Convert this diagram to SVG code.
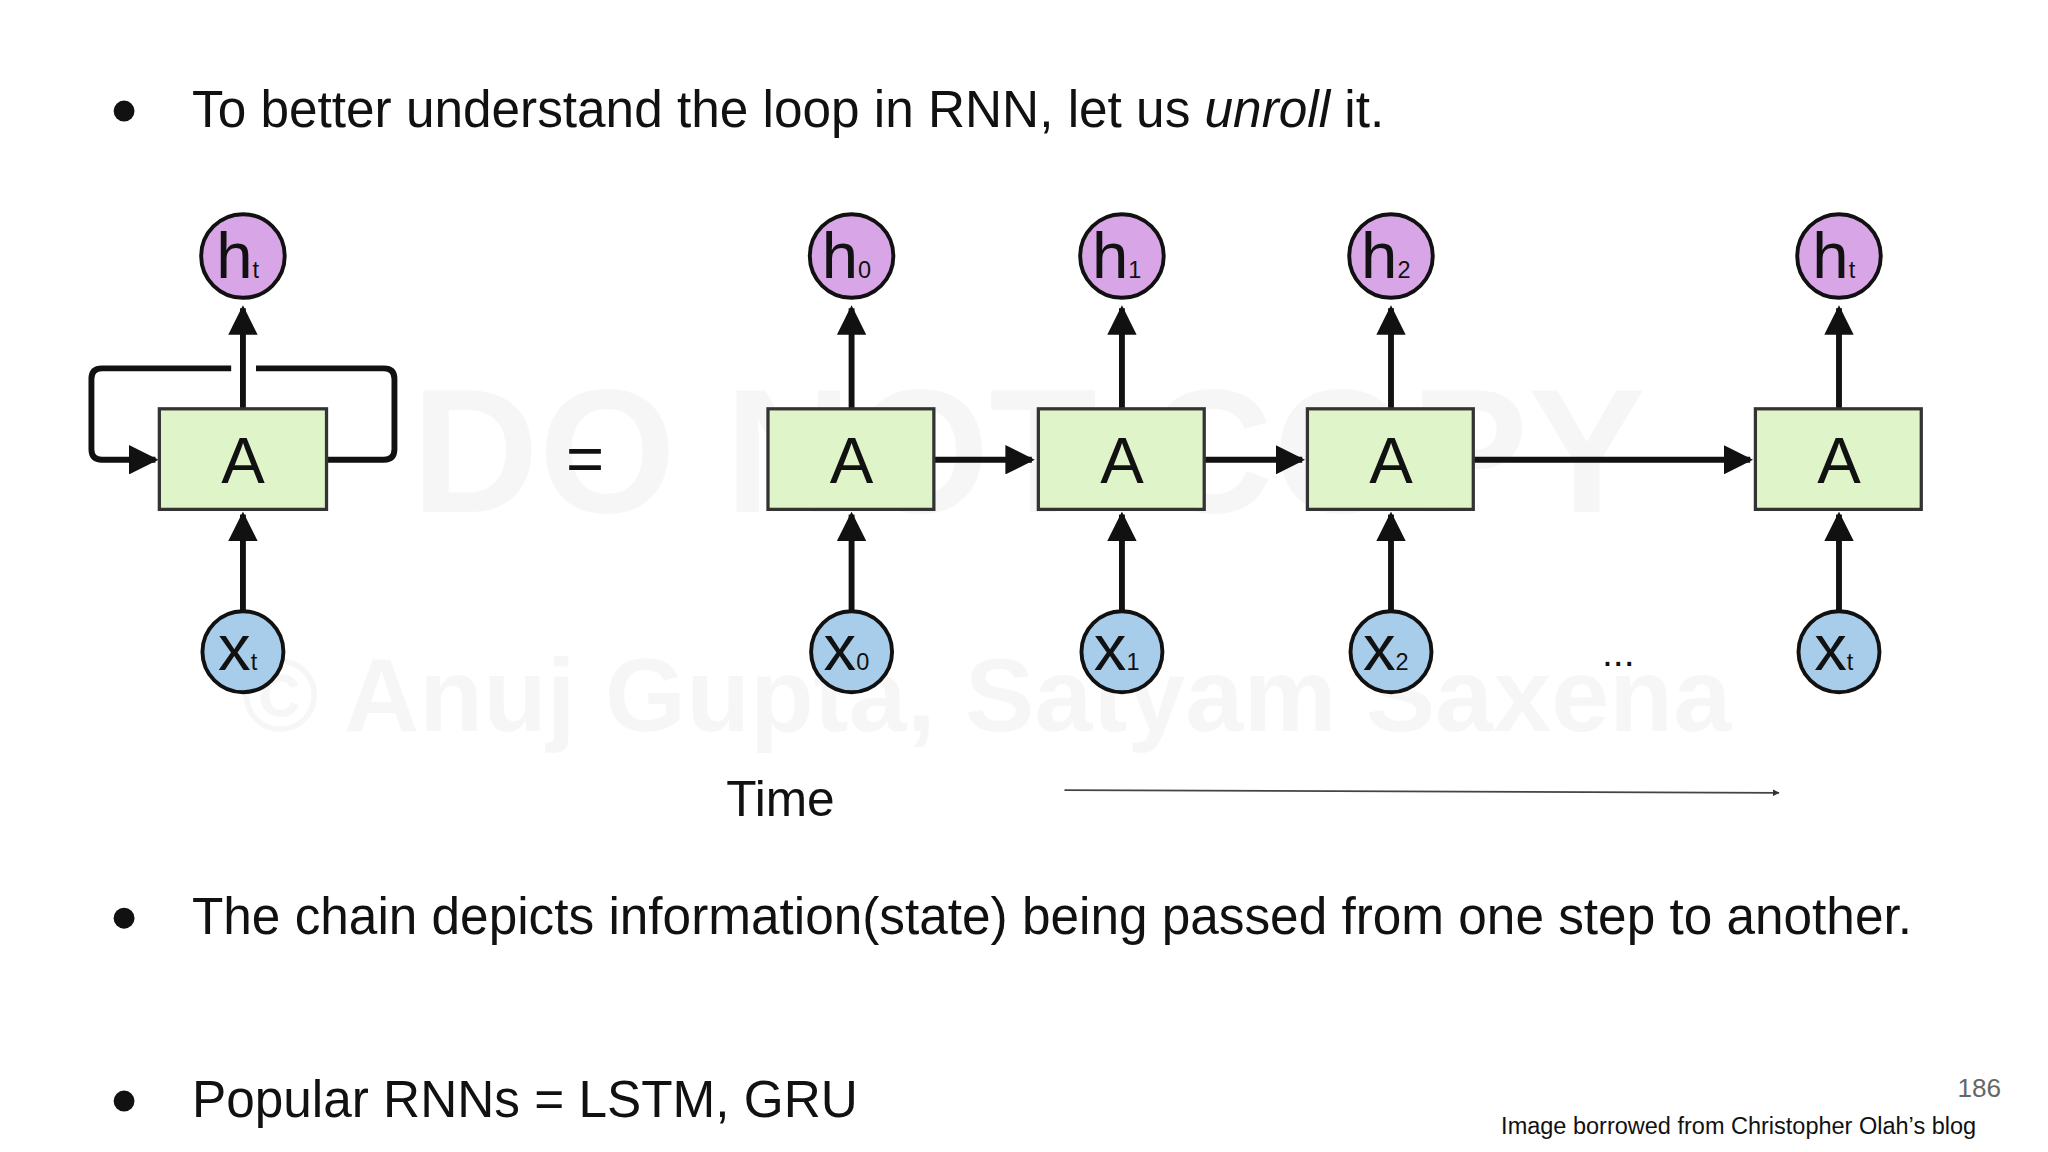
<svg xmlns="http://www.w3.org/2000/svg" width="2048" height="1152" viewBox="0 0 2048 1152">
<style>
.t{font-family:"Liberation Sans",Arial,sans-serif;fill:#111}
.b{font-size:39.3px}
.h{fill:#d8a6e6;stroke:#111;stroke-width:3}
.x{fill:#a8cdeb;stroke:#111;stroke-width:3}
.a{fill:#dff5c9;stroke:#333;stroke-width:2.5}
.l{fill:none;stroke:#111;stroke-width:4.5}
.big{font-size:50px;text-anchor:middle}
.sub{font-size:18px}
.wm{font-family:"Liberation Sans",sans-serif;font-weight:bold;fill:#000;fill-opacity:0.035}
</style>
<defs>
<marker id="m" viewBox="0 0 10 10" refX="9" refY="5" markerWidth="5" markerHeight="5" markerUnits="strokeWidth" orient="auto"><path d="M0,0L10,5L0,10z" fill="#111"/></marker>
<marker id="s" viewBox="0 0 10 10" refX="9" refY="5" markerWidth="4" markerHeight="4" orient="auto"><path d="M0,0L10,5L0,10z" fill="#333"/></marker>
</defs>
<rect width="2048" height="1152" fill="#fff"/>
<g transform="scale(1.3061)">
<text class="wm" x="315" y="392" font-size="135">DO NOT COPY</text>
<text class="wm" x="185" y="560" font-size="80">© Anuj Gupta, Satyam Saxena</text>
<g id="bullet1"><circle cx="95" cy="85" r="8" fill="#111"/><text class="t b" x="147" y="97">To better understand the loop in RNN, let us <tspan font-style="italic">unroll</tspan> it.</text></g>
<g id="connectors">
<path class="l" d="M186,313V236" marker-end="url(#m)"/>
<path class="l" d="M186,468V394" marker-end="url(#m)"/>
<path class="l" d="M250,352H294Q302,352 302,344V290Q302,282 294,282H196"/>
<path class="l" d="M177,282H78Q70,282 70,290V344Q70,352 78,352H119" marker-end="url(#m)"/>
<path class="l" d="M652,313V236" marker-end="url(#m)"/>
<path class="l" d="M859,313V236" marker-end="url(#m)"/>
<path class="l" d="M1065,313V236" marker-end="url(#m)"/>
<path class="l" d="M1408,313V236" marker-end="url(#m)"/>
<path class="l" d="M652,468V394" marker-end="url(#m)"/>
<path class="l" d="M859,468V394" marker-end="url(#m)"/>
<path class="l" d="M1065,468V394" marker-end="url(#m)"/>
<path class="l" d="M1408,468V394" marker-end="url(#m)"/>
<path class="l" d="M715,352H790" marker-end="url(#m)"/>
<path class="l" d="M922,352H997" marker-end="url(#m)"/>
<path class="l" d="M1128,352H1340" marker-end="url(#m)"/>
<path d="M815,605L1362,607" stroke="#444" stroke-width="1.3" fill="none" marker-end="url(#s)"/>
</g>
<g id="loopcell"><rect class="a" x="122" y="313" width="128" height="77"/><text class="t big" x="186" y="370">A</text></g>
<g id="loop_h"><circle class="h" cx="186" cy="196" r="32"/><text class="t big" x="182" y="213">h<tspan class="sub">t</tspan></text></g>
<g id="loop_x"><circle class="x" cx="186" cy="499" r="31"/><text class="t big" x="182" y="513">x<tspan class="sub">t</tspan></text></g>
<g id="eq"><text class="t" x="448" y="368" font-size="50" text-anchor="middle">=</text></g>
<g id="A0"><rect class="a" x="588" y="313" width="127" height="77"/><text class="t big" x="652" y="370">A</text></g>
<g id="A1"><rect class="a" x="795" y="313" width="127" height="77"/><text class="t big" x="859" y="370">A</text></g>
<g id="A2"><rect class="a" x="1001" y="313" width="127" height="77"/><text class="t big" x="1065" y="370">A</text></g>
<g id="At"><rect class="a" x="1344" y="313" width="127" height="77"/><text class="t big" x="1408" y="370">A</text></g>
<g id="h0"><circle class="h" cx="652" cy="196" r="32"/><text class="t big" x="648" y="213">h<tspan class="sub">0</tspan></text></g>
<g id="h1"><circle class="h" cx="859" cy="196" r="32"/><text class="t big" x="855" y="213">h<tspan class="sub">1</tspan></text></g>
<g id="h2"><circle class="h" cx="1065" cy="196" r="32"/><text class="t big" x="1061" y="213">h<tspan class="sub">2</tspan></text></g>
<g id="ht"><circle class="h" cx="1408" cy="196" r="32"/><text class="t big" x="1404" y="213">h<tspan class="sub">t</tspan></text></g>
<g id="x0"><circle class="x" cx="652" cy="499" r="31"/><text class="t big" x="648" y="513">x<tspan class="sub">0</tspan></text></g>
<g id="x1"><circle class="x" cx="859" cy="499" r="31"/><text class="t big" x="855" y="513">x<tspan class="sub">1</tspan></text></g>
<g id="x2"><circle class="x" cx="1065" cy="499" r="31"/><text class="t big" x="1061" y="513">x<tspan class="sub">2</tspan></text></g>
<g id="xt"><circle class="x" cx="1408" cy="499" r="31"/><text class="t big" x="1404" y="513">x<tspan class="sub">t</tspan></text></g>
<g id="dots"><text class="t" x="1239" y="510" font-size="30" text-anchor="middle">...</text></g>
<g id="time"><text class="t" x="556" y="625" font-size="38">Time</text></g>
<g id="bullet2"><circle cx="95" cy="703" r="8" fill="#111"/><text class="t b" x="147" y="715">The chain depicts information(state) being passed from one step to another.</text></g>
<g id="bullet3"><circle cx="95" cy="843" r="8" fill="#111"/><text class="t b" x="147" y="855">Popular RNNs = LSTM, GRU</text></g>
<text x="1532" y="840" font-size="20" font-family="Liberation Sans,sans-serif" fill="#666" text-anchor="end">186</text>
<text class="t" x="1513" y="868" font-size="18" text-anchor="end">Image borrowed from Christopher Olah’s blog</text>
</g>
</svg>
